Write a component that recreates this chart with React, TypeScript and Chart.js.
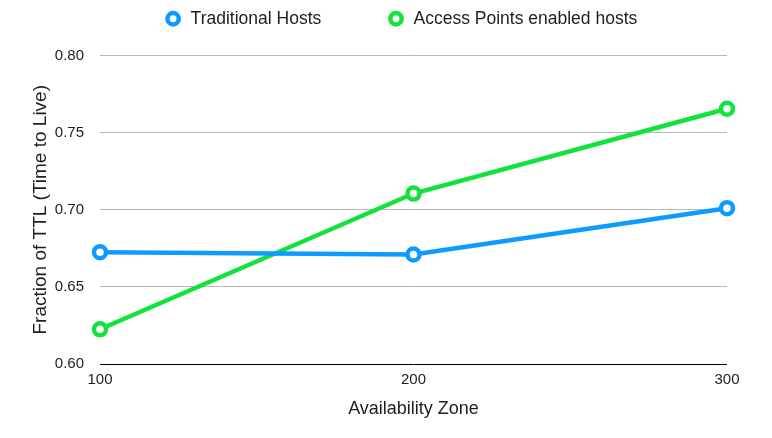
import React, { useEffect, useRef } from "react";
import { Chart, registerables } from "chart.js";

Chart.register(...registerables);

const categories = ["100", "200", "300"];
const traditionalHosts = [0.6725, 0.671, 0.701];
const accessPointHosts = [0.6225, 0.7105, 0.7655];
const yTicks = [0.6, 0.65, 0.7, 0.75, 0.8];

const BLUE = "#0d9bff";
const GREEN = "#12e23c";
const TEXT = "#1e1e1e";
const FONT = "'Liberation Sans', Arial, Helvetica, sans-serif";

export default function App() {
  const ref = useRef<HTMLCanvasElement | null>(null);
  useEffect(() => {
    if (!ref.current) return;
    const chart = new Chart(ref.current, {
      type: "line",
      data: {
        labels: categories,
        datasets: [
          {
            label: "Traditional Hosts",
            data: traditionalHosts,
            borderColor: BLUE,
            backgroundColor: BLUE,
            borderWidth: 4.5,
            pointRadius: 6,
            pointBorderWidth: 4.5,
            pointBackgroundColor: "#ffffff",
            pointBorderColor: BLUE,
            tension: 0,
          },
          {
            label: "Access Points enabled hosts",
            data: accessPointHosts,
            borderColor: GREEN,
            backgroundColor: GREEN,
            borderWidth: 4.5,
            pointRadius: 6,
            pointBorderWidth: 4.5,
            pointBackgroundColor: "#ffffff",
            pointBorderColor: GREEN,
            tension: 0,
          },
        ],
      },
      options: {
        animation: false,
        responsive: false,
        layout: { padding: { left: 29.6, right: 0, top: -56, bottom: 18.4 } },
        plugins: {
          tooltip: { enabled: false },
          title: {
            display: true,
            text: "",
            weight: 500,
            padding: 0,
            font: { size: 18, lineHeight: 1 },
          },
          legend: {
            position: "top",
            labels: {
              usePointStyle: true,
              pointStyle: "circle",
              boxWidth: 18,
              boxHeight: 8,
              padding: 66,
              color: TEXT,
              font: { family: FONT, size: 17.5 },
            },
          },
        },
        scales: {
          x: {
            offset: false,
            grid: { display: false, drawTicks: false },
            border: { display: false },
            ticks: { color: TEXT, font: { family: FONT, size: 15 }, padding: 7, maxRotation: 0 },
            title: {
              display: true,
              text: "Availability Zone",
              color: TEXT,
              font: { family: FONT, size: 18 },
              padding: { top: 2, bottom: 0 },
            },
          },
          y: {
            min: 0.6,
            max: 0.8,
            afterBuildTicks: (axis: any) => {
              axis.ticks = yTicks.map((v) => ({ value: v }));
            },
            afterFit: (scale: any) => {
              scale.width = 70.4;
            },
            grid: {
              drawTicks: false,
              lineWidth: 1,
              color: (ctx: any) =>
                ctx.tick && Math.abs(ctx.tick.value - 0.6) < 1e-9 ? "#000000" : "#b8b8b8",
            },
            border: { display: false },
            ticks: {
              color: TEXT,
              font: { family: FONT, size: 15 },
              padding: 16,
              callback: (v: any) => Number(v).toFixed(2),
            },
            title: {
              display: true,
              text: "Fraction of TTL (Time to Live)",
              color: TEXT,
              font: { family: FONT, size: 19 },
              padding: { top: 0, bottom: 0 },
            },
          },
          yRight: {
            type: "linear",
            position: "right",
            display: true,
            grid: { display: false, drawTicks: false },
            border: { display: false },
            ticks: { display: false },
            afterFit: (scale: any) => {
              scale.width = 45;
            },
          },
        },
      },
    });
    return () => chart.destroy();
  }, []);
  return (
    <div style={{ position: "fixed", left: 0, top: 0, width: 772, height: 438, background: "#fff" }}>
      <canvas ref={ref} width={772} height={438} style={{ width: 772, height: 438 }} />
    </div>
  );
}
